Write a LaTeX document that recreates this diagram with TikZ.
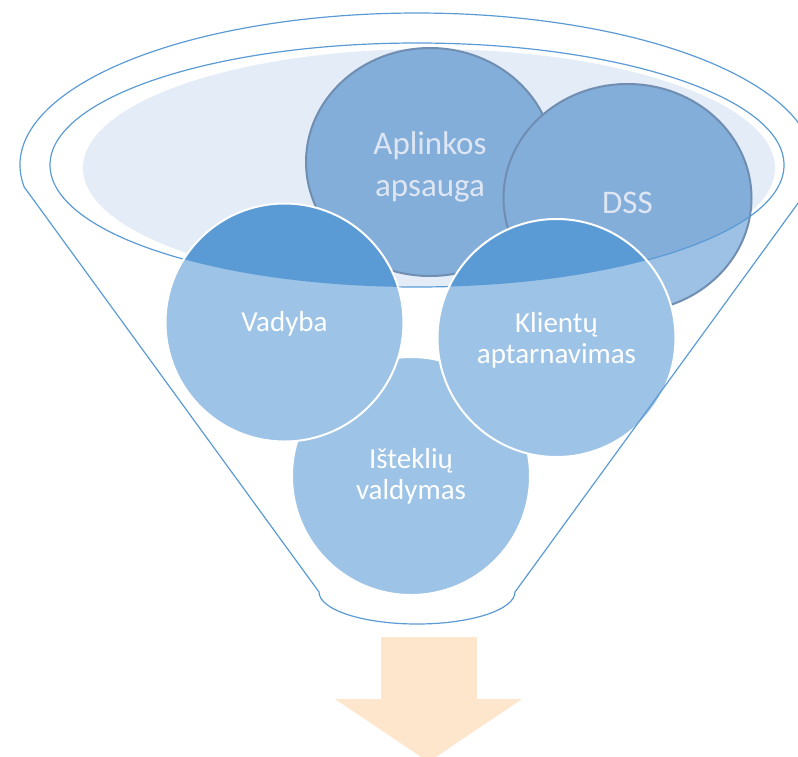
\documentclass[tikz,border=0pt]{standalone}
\usepackage{fontspec}
\setmainfont{Carlito}
\usetikzlibrary{shapes.geometric}

\begin{document}
\begin{tikzpicture}[x=1pt, y=-1pt,
    funnel/.style={draw=funnel-blue, line width=1.2pt},
    backball/.style={ellipse, minimum width=248pt, minimum height=228pt, inner sep=0pt,
      fill=back-light, draw=back-line, line width=2pt,
      path picture={\fill[back-blue] (rim) ellipse [x radius=367pt, y radius=122pt];}},
    frontball/.style={circle, minimum size=238pt, inner sep=0pt,
      fill=front-light, draw=white, line width=2pt,
      path picture={\fill[front-dark] (rim) ellipse [x radius=367pt, y radius=122pt];}},
    backtext/.style={text=back-text, align=center, font=\fontsize{33}{42}\selectfont},
    fronttext/.style={text=white, align=center, font=\fontsize{29}{31}\selectfont}]
    \definecolor{funnel-blue}{HTML}{5B9BD5}
    \definecolor{soft-fill}{HTML}{E4ECF7}
    \definecolor{back-blue}{HTML}{83AEDA}
    \definecolor{back-light}{HTML}{9CC1E4}
    \definecolor{back-line}{HTML}{6F8EB2}
    \definecolor{back-text}{HTML}{DDE6F2}
    \definecolor{front-light}{HTML}{9DC3E6}
    \definecolor{front-dark}{HTML}{5B9BD5}
    \definecolor{arrow-peach}{HTML}{FEE6CC}
    \useasboundingbox (0,0) rectangle (798,756);
    \clip (0,0) rectangle (798,756);
    \coordinate (rim) at (417,165);
    \fill[soft-fill] (429,168) ellipse [x radius=346pt, y radius=119pt];
    \node[backball] (aplinkos) at (430,162) {};
    \node[backball] (dss) at (627.5,198) {};
    \draw[funnel] (rim) ellipse [x radius=367pt, y radius=122pt];
    \node[frontball] (istekliu) at (411,476) {};
    \node[frontball] (vadyba) at (284.5,322.5) {};
    \node[frontball] (klientu) at (556.5,338) {};
    \draw[funnel] (24.2,187) arc [start angle=188.32, end angle=-8.32, x radius=397pt, y radius=152pt]
      -- (515,592) arc [start angle=0, end angle=-180, x radius=98pt, y radius=32pt] -- cycle;
    \node[backtext] (aplinkos-text) at (430,166.5) {Aplinkos\\apsauga};
    \node[backtext] (dss-text) at (627.5,202.5) {DSS};
    \node[fronttext] (vadyba-text) at (284.5,324) {Vadyba};
    \node[fronttext] (klientu-text) at (556.5,340) {Klientų\\aptarnavimas};
    \node[fronttext] (istekliu-text) at (411,476) {Išteklių\\valdymas};
    \fill[arrow-peach] (381,637) -- (477,637) -- (477,699) -- (522,699) -- (428.5,762)
      -- (335,699) -- (381,699) -- cycle;
\end{tikzpicture}
\end{document}
